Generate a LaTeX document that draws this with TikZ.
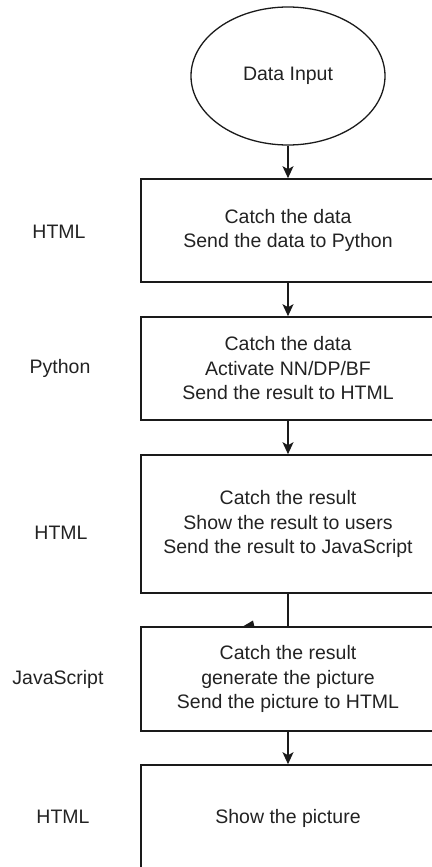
\documentclass[tikz,border=0pt]{standalone}
\usepackage{fontspec}
\setmainfont{Liberation Sans}
\usetikzlibrary{shapes.geometric,arrows.meta}
\definecolor{ln}{HTML}{1A1A1A}
\definecolor{tx}{HTML}{222222}
\begin{document}
\begin{tikzpicture}[x=1pt,y=-1pt,
  every node/.style={font=\fontsize{19.5}{24.5}\selectfont, text=tx},
  stepbox/.style={draw=ln, line width=1.6pt, rectangle, minimum width=294pt, inner sep=0pt, align=center},
  startnode/.style={draw=ln, line width=1.3pt, ellipse, minimum width=194pt, minimum height=138pt, inner sep=0pt},
  lbl/.style={align=center},
  arr/.style={draw=ln, line width=1.6pt, -{Stealth[length=12pt,width=11pt,inset=3pt]}},
  conn/.style={draw=ln, line width=1.6pt}]
\useasboundingbox (0,0) rectangle (431,867);
\node[startnode] (start) at (288,76) {Data Input};
\node[stepbox, minimum height=103pt] (b1) at (288,230.5) {Catch the data\\Send the data to Python};
\node[stepbox, minimum height=103pt] (b2) at (288,368.5) {Catch the data\\Activate NN/DP/BF\\Send the result to HTML};
\node[stepbox, minimum height=138pt] (b3) at (288,524) {Catch the result\\Show the result to users\\Send the result to JavaScript};
\node[stepbox, minimum height=104pt] (b4) at (288,679) {Catch the result\\generate the picture\\Send the picture to HTML};
\node[stepbox, minimum height=106pt] (b5) at (288,818) {Show the picture};
\node[lbl] (l1) at (59,232) {HTML};
\node[lbl] (l2) at (60,368) {Python};
\node[lbl] (l3) at (61,533) {HTML};
\node[lbl] (l4) at (58,679) {JavaScript};
\node[lbl] (l5) at (63,817) {HTML};
\draw[arr] (start) -- (b1);
\draw[arr] (b1) -- (b2);
\draw[arr] (b2) -- (b3);
\draw[conn] (b3) -- (b4);
\fill[ln] (242,627) -- (253,620.5) -- (254.5,627) -- cycle;
\draw[arr] (b4) -- (b5);
\end{tikzpicture}
\end{document}
